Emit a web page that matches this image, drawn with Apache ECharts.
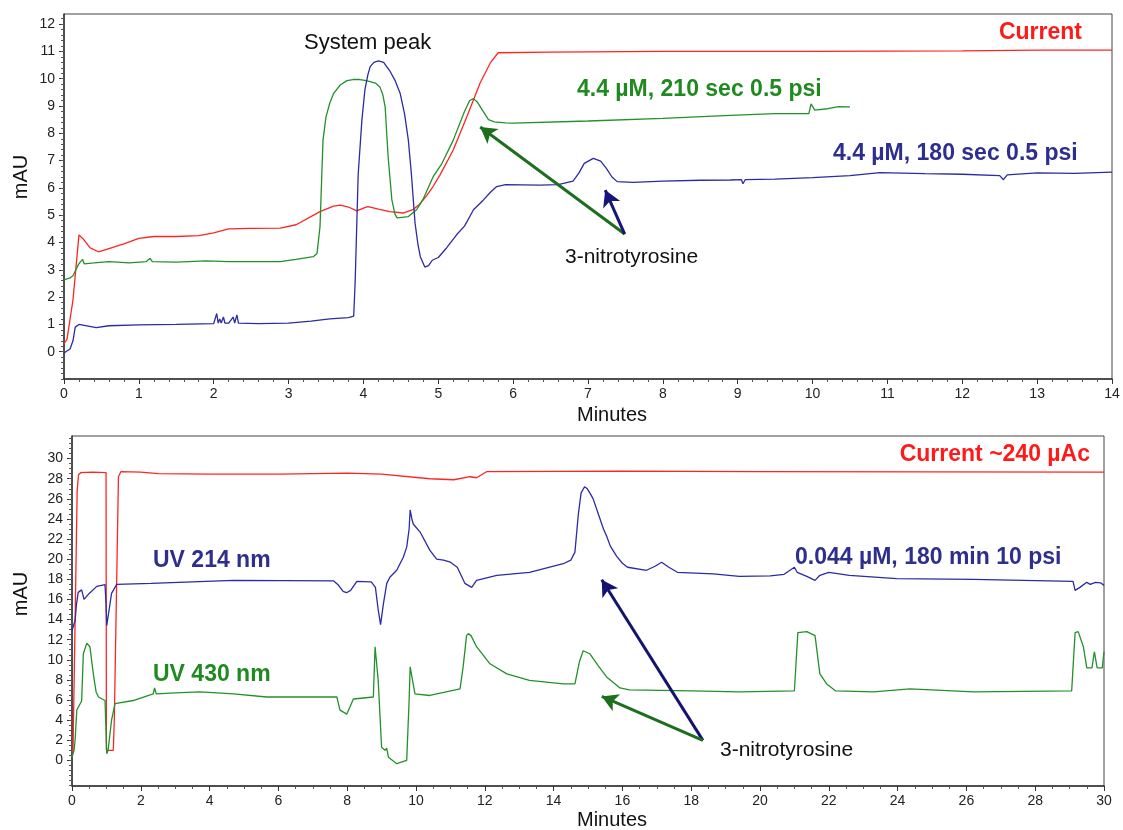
<!DOCTYPE html>
<html>
<head>
<meta charset="utf-8">
<script src="https://cdn.jsdelivr.net/npm/echarts@6/dist/echarts.min.js"></script>
<style>
html,body{margin:0;padding:0;background:#fff;}
#chart{width:1123px;height:830px;}
</style>
</head>
<body>
<div id="chart"></div>
<script>
// ---------- DATA (time in minutes, signal in mAU) ----------
const topCurrent = [[0,0.3],[0.04,0.45],[0.12,1.9],[0.2,4.28],[0.25,4.15],[0.35,3.8],[0.46,3.66],[0.6,3.78],[0.8,3.95],[1.0,4.15],[1.2,4.22],[1.5,4.22],[1.8,4.25],[2.0,4.35],[2.2,4.5],[2.5,4.52],[2.89,4.53],[3.1,4.65],[3.42,5.13],[3.6,5.33],[3.69,5.37],[3.8,5.3],[3.91,5.16],[4.0,5.26],[4.06,5.31],[4.2,5.22],[4.35,5.13],[4.53,5.08],[4.66,5.2],[4.75,5.4],[4.84,5.7],[4.93,6.05],[5.02,6.46],[5.2,7.39],[5.38,8.6],[5.56,9.85],[5.7,10.6],[5.8,10.95],[6.5,10.97],[8,11.0],[10,11.0],[12,11.02],[13,11.05],[14,11.05]];

const topGreen210 = [[0,2.63],[0.08,2.7],[0.12,2.78],[0.19,3.18],[0.22,3.3],[0.25,3.38],[0.27,3.22],[0.4,3.25],[0.6,3.3],[0.87,3.25],[1.1,3.3],[1.15,3.42],[1.18,3.3],[1.5,3.28],[1.9,3.33],[2.2,3.3],[2.6,3.3],[2.89,3.3],[3.1,3.38],[3.33,3.48],[3.38,3.6],[3.42,4.58],[3.46,7.75],[3.5,8.6],[3.55,9.1],[3.6,9.45],[3.69,9.77],[3.78,9.93],[3.86,9.97],[3.95,9.97],[4.02,9.94],[4.09,9.89],[4.16,9.84],[4.22,9.7],[4.26,9.4],[4.29,8.97],[4.33,7.14],[4.38,5.56],[4.42,5.05],[4.45,4.9],[4.6,4.95],[4.71,5.2],[4.8,5.6],[4.93,6.4],[5.05,6.9],[5.2,7.75],[5.35,8.8],[5.42,9.2],[5.47,9.27],[5.52,9.15],[5.6,8.8],[5.67,8.5],[5.75,8.42],[5.9,8.38],[6.0,8.37],[7.0,8.45],[8.0,8.55],[8.9,8.66],[9.5,8.72],[9.95,8.72],[9.98,9.08],[10.03,8.85],[10.2,8.9],[10.35,8.98],[10.5,8.97]];

const topBlue180 = [[0,-0.05],[0.08,0.1],[0.12,0.4],[0.15,0.9],[0.2,1.0],[0.43,0.88],[0.6,0.95],[1.0,0.98],[1.5,1.0],[2.0,1.03],[2.04,1.4],[2.06,1.05],[2.08,1.2],[2.1,1.05],[2.13,1.27],[2.15,1.05],[2.2,1.05],[2.26,1.27],[2.28,1.05],[2.31,1.35],[2.33,1.05],[2.6,1.03],[3.0,1.05],[3.3,1.12],[3.55,1.2],[3.8,1.25],[3.87,1.3],[3.89,2.6],[3.93,6.5],[3.98,8.5],[4.02,9.6],[4.06,10.15],[4.09,10.44],[4.14,10.6],[4.2,10.65],[4.27,10.6],[4.35,10.3],[4.42,9.95],[4.49,9.47],[4.55,8.7],[4.6,7.75],[4.64,6.53],[4.69,4.7],[4.73,3.9],[4.76,3.48],[4.82,3.1],[4.87,3.15],[4.92,3.35],[5.0,3.45],[5.11,3.8],[5.25,4.3],[5.35,4.6],[5.47,5.2],[5.6,5.55],[5.7,5.85],[5.78,6.05],[5.9,6.12],[6.36,6.1],[6.6,6.12],[6.8,6.25],[6.88,6.55],[6.95,6.9],[7.07,7.08],[7.17,6.98],[7.25,6.7],[7.32,6.4],[7.39,6.23],[7.6,6.2],[8.0,6.25],[8.5,6.28],[8.9,6.29],[9.05,6.3],[9.07,6.15],[9.1,6.3],[9.5,6.32],[10.0,6.38],[10.5,6.45],[10.9,6.56],[11.5,6.52],[12.0,6.5],[12.5,6.45],[12.55,6.3],[12.6,6.48],[13.0,6.55],[13.5,6.53],[14.0,6.58]];

const botCurrent = [[0,0.8],[0.03,1.0],[0.15,26.8],[0.19,28.4],[0.25,28.6],[0.6,28.65],[0.99,28.6],[1.0,1.0],[1.2,1.0],[1.23,4.0],[1.35,28.2],[1.42,28.7],[2.0,28.65],[2.5,28.5],[4,28.45],[6,28.45],[8,28.55],[9.0,28.45],[10.4,28.0],[11.1,27.9],[11.57,28.2],[11.76,28.1],[12.05,28.7],[16,28.75],[20,28.7],[25,28.68],[30,28.65]];

const botUV214 = [[0,12.9],[0.09,13.9],[0.13,15.5],[0.18,16.7],[0.28,16.95],[0.35,16.0],[0.5,16.6],[0.72,17.3],[0.96,17.47],[0.99,15.5],[1.01,13.4],[1.08,15.0],[1.15,16.6],[1.3,17.5],[2.3,17.6],[4.7,17.9],[7.6,17.85],[7.75,17.4],[7.88,16.8],[7.98,16.67],[8.1,16.9],[8.28,17.8],[8.7,17.75],[8.82,17.2],[8.9,15.0],[8.97,13.5],[9.05,15.5],[9.15,17.6],[9.24,18.2],[9.44,18.9],[9.63,20.2],[9.73,21.2],[9.8,23.0],[9.83,24.9],[9.88,24.0],[9.92,23.5],[10.12,22.7],[10.4,20.9],[10.6,20.0],[10.8,19.9],[11.0,19.7],[11.2,19.2],[11.42,17.6],[11.62,17.2],[11.76,17.9],[12.35,18.4],[13.3,18.7],[14.28,19.55],[14.5,19.9],[14.62,20.7],[14.72,24.5],[14.8,26.6],[14.9,27.2],[14.98,27.0],[15.07,26.5],[15.15,26.0],[15.3,24.5],[15.45,23.0],[15.54,22.3],[15.65,21.3],[15.83,20.3],[16.0,19.6],[16.15,19.2],[16.7,18.9],[16.95,19.3],[17.14,19.7],[17.35,19.2],[17.6,18.7],[18.64,18.55],[19.4,18.3],[20.3,18.35],[20.7,18.5],[21.0,19.2],[21.08,18.7],[21.36,18.3],[21.6,17.9],[21.74,18.4],[22.0,18.7],[22.6,18.4],[23.97,18.07],[26.2,18.0],[29.1,17.8],[29.16,16.9],[29.3,17.2],[29.5,17.7],[29.6,17.5],[29.75,17.7],[29.9,17.65],[30,17.4]];

const botUV430 = [[0,0.33],[0.06,1.0],[0.09,2.0],[0.14,5.0],[0.28,5.9],[0.33,10.6],[0.43,11.66],[0.52,11.3],[0.62,8.6],[0.7,6.8],[0.77,6.3],[0.96,5.95],[1.01,0.66],[1.05,1.0],[1.15,4.0],[1.25,5.63],[1.78,5.95],[2.36,6.6],[2.4,7.2],[2.45,6.6],[3.0,6.7],[3.72,6.8],[4.7,6.6],[5.66,6.3],[7.5,6.3],[7.7,6.3],[7.79,5.0],[7.99,4.6],[8.18,6.1],[8.76,6.3],[8.81,11.3],[8.84,11.4],[8.9,8.0],[9.0,1.3],[9.1,1.0],[9.15,1.2],[9.2,0.3],[9.44,-0.33],[9.73,0.0],[9.8,6.0],[9.83,9.3],[9.87,9.4],[9.97,6.6],[10.4,6.45],[11.28,7.1],[11.37,9.3],[11.47,12.4],[11.52,12.6],[11.6,12.4],[11.76,11.3],[12.15,9.6],[12.64,8.6],[13.3,7.95],[14.28,7.6],[14.62,7.6],[14.75,9.8],[14.86,10.9],[15.05,10.6],[15.3,9.4],[15.54,8.3],[15.93,7.2],[16.2,7.0],[18,6.9],[19.4,6.8],[21.0,6.9],[21.1,12.7],[21.36,12.8],[21.6,12.4],[21.74,8.6],[21.94,7.6],[22.2,6.9],[23.3,6.8],[24.36,7.1],[26.2,6.8],[29.06,6.9],[29.16,12.7],[29.25,12.8],[29.4,11.3],[29.5,9.2],[29.65,9.2],[29.72,10.8],[29.8,9.2],[29.95,9.2],[30,10.8]];

// tick labels
const topYTicks = [0,1,2,3,4,5,6,7,8,9,10,11,12];
const botYTicks = [0,2,4,6,8,10,12,14,16,18,20,22,24,26,28,30];

// annotation arrows [from, to] in data coords
const topArrows = [
  {from:[7.49,4.31], to:[5.56,8.23], color:'#1d6e1d'},
  {from:[7.49,4.31], to:[7.23,5.92], color:'#16167a'}
];
const botArrows = [
  {from:[18.34,1.99], to:[15.4,17.96], color:'#14146e'},
  {from:[18.34,1.99], to:[15.4,6.36], color:'#1d6e1d'}
];

// ---------- CHART ----------
const RED = '#ff2424', GREEN = '#23912a', BLUE = '#2b2ba3';
const FONT = '"Liberation Sans", Arial, sans-serif';

function range(a, b, step) { const r = []; for (let v = a; v <= b + 1e-9; v += step) r.push(+v.toFixed(3)); return r; }

const chart = echarts.init(document.getElementById('chart'), null, {renderer: 'canvas'});

function xAxisDef(grid, max, interval, minorSplit) {
  return {
    type: 'value', gridIndex: grid, min: 0, max: max, interval: interval,
    axisLine: {show: true, onZero: false, lineStyle: {color: '#333', width: 1.5}},
    axisTick: {show: true, inside: false, length: 5, lineStyle: {color: '#333'}},
    minorTick: {show: true, splitNumber: minorSplit, length: 3, lineStyle: {color: '#555'}},
    axisLabel: {fontSize: 14, color: '#222', fontFamily: FONT, margin: 8},
    splitLine: {show: false}
  };
}
function yMain(grid, min, max, labels) {
  return {
    type: 'value', gridIndex: grid, min: min, max: max, position: 'left',
    axisLine: {show: true, onZero: false, lineStyle: {color: '#333', width: 1.5}},
    axisTick: {show: true, length: 5, customValues: labels, lineStyle: {color: '#333'}},
    axisLabel: {fontSize: 14, color: '#222', fontFamily: FONT, margin: 9, customValues: labels},
    splitLine: {show: false}
  };
}
function yMinor(grid, min, max, step) {
  return {
    type: 'value', gridIndex: grid, min: min, max: max, position: 'left',
    axisLine: {show: false},
    axisTick: {show: true, length: 3, customValues: range(Math.ceil(min / step) * step, max, step), lineStyle: {color: '#555'}},
    axisLabel: {show: false},
    splitLine: {show: false}
  };
}
function lineSeries(name, data, color, xi, yi, extra) {
  return Object.assign({
    name: name, type: 'line', data: data, xAxisIndex: xi, yAxisIndex: yi,
    showSymbol: false, symbol: 'none', smooth: false, silent: true,
    lineStyle: {color: color, width: 1.3}, z: 3
  }, extra || {});
}
function arrowMarks(arrows) {
  return {
    silent: true, symbol: ['none', 'arrow'], symbolSize: [14, 16], animation: false,
    label: {show: false},
    data: arrows.map(a => [
      {coord: a.from, lineStyle: {color: a.color, width: 3, type: 'solid'}, itemStyle: {color: a.color}},
      {coord: a.to}
    ])
  };
}

function txt(text, x, y, opts) {
  return {
    type: 'text', x: x, y: y, silent: true, z: 10, rotation: opts.rotation || 0,
    style: {
      text: text, fill: opts.color || '#111',
      font: (opts.bold ? 'bold ' : '') + (opts.size || 20) + 'px ' + FONT,
      align: opts.align || 'left', verticalAlign: 'middle'
    }
  };
}

const option = {
  animation: false,
  backgroundColor: '#fff',
  grid: [
    {left: 64, top: 14, width: 1048, height: 365, show: true, borderColor: '#444', borderWidth: 1, backgroundColor: 'transparent'},
    {left: 72, top: 436, width: 1032, height: 350, show: true, borderColor: '#444', borderWidth: 1, backgroundColor: 'transparent'}
  ],
  xAxis: [
    xAxisDef(0, 14, 1, 5),
    xAxisDef(1, 30, 2, 4)
  ],
  yAxis: [
    yMain(0, -1, 12.37, topYTicks),
    yMinor(0, -1, 12.37, 0.2),
    yMain(1, -2.55, 32.25, botYTicks),
    yMinor(1, -2.55, 32.25, 0.5)
  ],
  series: [
    lineSeries('Current', topCurrent, RED, 0, 0),
    lineSeries('4.4 µM, 210 sec 0.5 psi', topGreen210, GREEN, 0, 0, {markLine: arrowMarks(topArrows)}),
    lineSeries('4.4 µM, 180 sec 0.5 psi', topBlue180, BLUE, 0, 0),
    lineSeries('Current ~240 µAc', botCurrent, RED, 1, 2),
    lineSeries('UV 214 nm', botUV214, BLUE, 1, 2),
    lineSeries('UV 430 nm', botUV430, GREEN, 1, 2, {markLine: arrowMarks(botArrows)})
  ],
  graphic: [
    txt('mAU', 21, 177, {size: 20, rotation: Math.PI / 2, align: 'center'}),
    txt('Minutes', 612, 415, {size: 20, align: 'center'}),
    txt('mAU', 21, 594, {size: 20, rotation: Math.PI / 2, align: 'center'}),
    txt('Minutes', 612, 820, {size: 20, align: 'center'}),
    txt('System peak', 304, 43, {size: 22}),
    txt('Current', 1082, 33, {size: 23, bold: true, color: '#ff1a1a', align: 'right'}),
    txt('4.4 µM, 210 sec 0.5 psi', 577, 90, {size: 23, bold: true, color: '#1f8a1f'}),
    txt('4.4 µM, 180 sec 0.5 psi', 833, 154, {size: 23, bold: true, color: '#2e2e8e'}),
    txt('3-nitrotyrosine', 565, 257, {size: 21}),
    txt('Current ~240 µAc', 1090, 455, {size: 23, bold: true, color: '#ff1a1a', align: 'right'}),
    txt('UV 214 nm', 153, 561, {size: 23, bold: true, color: '#2e2e8e'}),
    txt('0.044 µM, 180 min 10 psi', 795, 558, {size: 23, bold: true, color: '#2e2e8e'}),
    txt('UV 430 nm', 153, 675, {size: 23, bold: true, color: '#1f8a1f'}),
    txt('3-nitrotyrosine', 720, 750, {size: 21})
  ]
};
chart.setOption(option);
</script>
</body>
</html>
